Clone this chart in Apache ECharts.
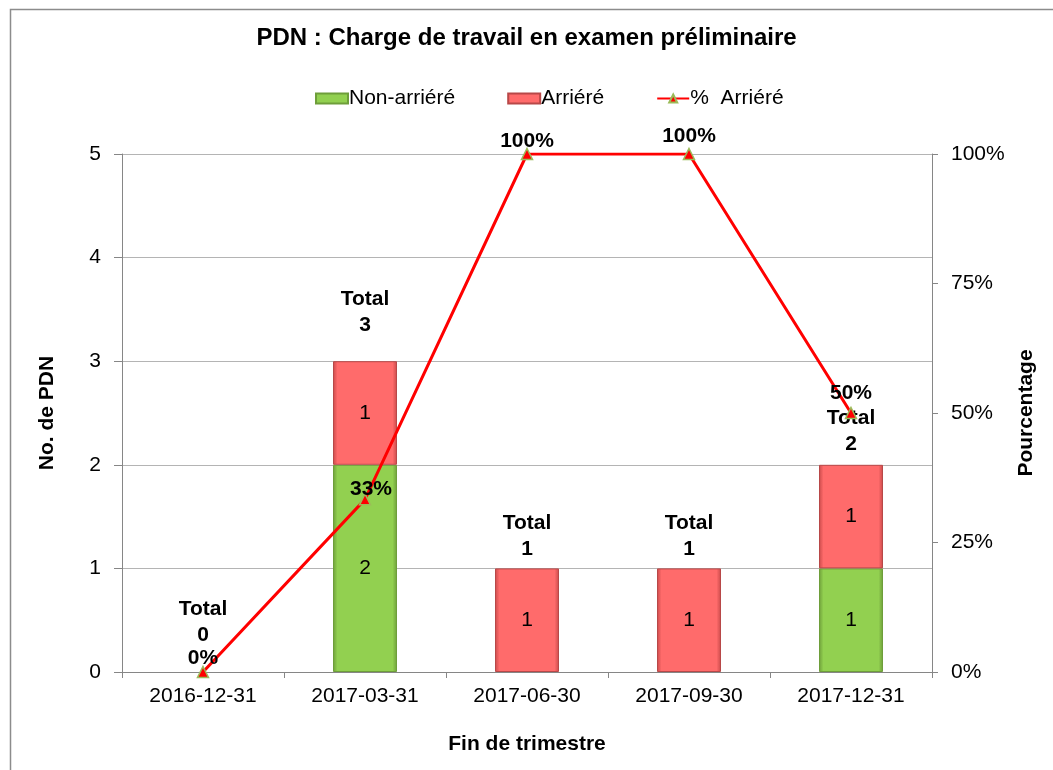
<!DOCTYPE html>
<html><head><meta charset="utf-8">
<script src="https://cdn.jsdelivr.net/npm/echarts@6/dist/echarts.min.js"></script>
<style>html,body{margin:0;padding:0;background:#fff}#c{width:1053px;height:770px}</style>
</head><body><div id="c"></div>
<script>
const categories = ['2016-12-31','2017-03-31','2017-06-30','2017-09-30','2017-12-31'];
const nonArriere = [0, 2, 0, 0, 1];
const arriere = [0, 1, 1, 1, 1];
const pctArriere = [0, 33.33, 100, 100, 50];
const totals = [0, 3, 1, 1, 2];
const leftTicks = {min: 0, max: 5, interval: 1};
const rightTicks = {min: 0, max: 100, interval: 25};

const FONT = '"Liberation Sans", Arial, sans-serif';
const FS = 21;
const chart = echarts.init(document.getElementById('c'));

const totalOffsets = [[0, -15], [0, -14], [0, 2], [0, 2], [0, 1]];
const pctOffsets = [[0, 5], [6, 9], [0, 6], [0, 1], [0, -1]];

function barStyle(c1, c2, border) {
  return {
    color: new echarts.graphic.LinearGradient(0, 0, 1, 0, [
      {offset: 0, color: c2}, {offset: 0.07, color: c1}, {offset: 0.93, color: c1}, {offset: 1, color: c2}
    ]),
    borderColor: border, borderWidth: 1
  };
}
const nz = v => (v ? v : null);

chart.setOption({
  animation: false,
  textStyle: {fontFamily: FONT},
  graphic: [{type: 'rect', shape: {x: 10.5, y: 9.5, width: 1200, height: 900}, style: {fill: 'none', stroke: '#8c8c8c', lineWidth: 1.5}, silent: true}],
  title: {text: 'PDN : Charge de travail en examen préliminaire', left: 'center', top: 21,
    textStyle: {fontFamily: FONT, fontSize: 24, fontWeight: 'bold', color: '#000'}},
  legend: {top: 83, left: 310, itemGap: 52, itemWidth: 32, itemHeight: 10,
    textStyle: {fontFamily: FONT, fontSize: FS, color: '#000', padding: [0, 0, 0, -4]},
    data: [{name: 'Non-arriéré', icon: 'rect'}, {name: 'Arriéré', icon: 'rect'}, {name: '%  Arriéré'}]},
  grid: {left: 122, right: 121, top: 154, bottom: 98},
  xAxis: {type: 'category', data: categories,
    name: 'Fin de trimestre', nameLocation: 'middle', nameGap: 62,
    nameTextStyle: {fontFamily: FONT, fontSize: FS, fontWeight: 'bold', color: '#000'},
    axisLine: {lineStyle: {color: '#868686', width: 1}},
    axisTick: {show: true, length: 6, lineStyle: {color: '#868686'}},
    axisLabel: {fontFamily: FONT, fontSize: FS, color: '#000', margin: 14}},
  yAxis: [
    {type: 'value', min: leftTicks.min, max: leftTicks.max, interval: leftTicks.interval,
      name: 'No. de PDN', nameLocation: 'middle', nameGap: 64, nameRotate: 90,
      nameTextStyle: {fontFamily: FONT, fontSize: FS, fontWeight: 'bold', color: '#000'},
      axisLine: {show: true, lineStyle: {color: '#868686'}},
      axisTick: {show: true, length: 8, lineStyle: {color: '#868686'}},
      axisLabel: {fontFamily: FONT, fontSize: FS, color: '#000', margin: 21},
      splitLine: {lineStyle: {color: '#b4b4b4', width: 1}}},
    {type: 'value', min: rightTicks.min, max: rightTicks.max, interval: rightTicks.interval,
      name: 'Pourcentage', nameLocation: 'middle', nameGap: 67, nameRotate: 90,
      nameTextStyle: {fontFamily: FONT, fontSize: FS, fontWeight: 'bold', color: '#000'},
      axisLine: {show: true, lineStyle: {color: '#868686'}},
      axisTick: {show: true, length: 6, lineStyle: {color: '#868686'}},
      axisLabel: {fontFamily: FONT, fontSize: FS, color: '#000', margin: 19, formatter: '{value}%'},
      splitLine: {show: false}}
  ],
  series: [
    {name: 'Non-arriéré', type: 'bar', stack: 'a', barWidth: 64, data: nonArriere.map(nz),
      itemStyle: barStyle('#92D050', '#6E9E3A', '#6E9E3A'),
      label: {show: true, position: 'inside', fontFamily: FONT, fontSize: FS, color: '#000'}},
    {name: 'Arriéré', type: 'bar', stack: 'a', barWidth: 64, data: arriere.map(nz),
      itemStyle: barStyle('#FF6B6B', '#C94A4A', '#B84848'),
      label: {show: true, position: 'inside', fontFamily: FONT, fontSize: FS, color: '#000'}},
    {name: 'Total', type: 'line', data: totals.map((v, i) => ({value: v,
        label: {offset: totalOffsets[i]}})),
      symbol: 'circle', symbolSize: 1, showSymbol: true,
      itemStyle: {color: 'rgba(0,0,0,0)'}, lineStyle: {width: 0, opacity: 0}, silent: true, z: 5,
      label: {show: true, position: 'top', distance: 8, fontFamily: FONT, fontSize: FS, fontWeight: 'bold',
        color: '#000', lineHeight: 26, formatter: p => 'Total\n' + p.value}},
    {name: '%  Arriéré', type: 'line', yAxisIndex: 1,
      data: pctArriere.map((v, i) => ({value: v, label: {offset: pctOffsets[i]}})),
      lineStyle: {color: '#FF0000', width: 3},
      symbol: 'triangle', symbolSize: 11,
      itemStyle: {color: '#FF0000', borderColor: '#9BBB59', borderWidth: 1.5},
      z: 10,
      label: {show: true, position: 'top', distance: 0, fontFamily: FONT, fontSize: FS, fontWeight: 'bold',
        color: '#000', lineHeight: 26, formatter: p => Math.round(p.value) + '%'}}
  ]
});
</script></body></html>
